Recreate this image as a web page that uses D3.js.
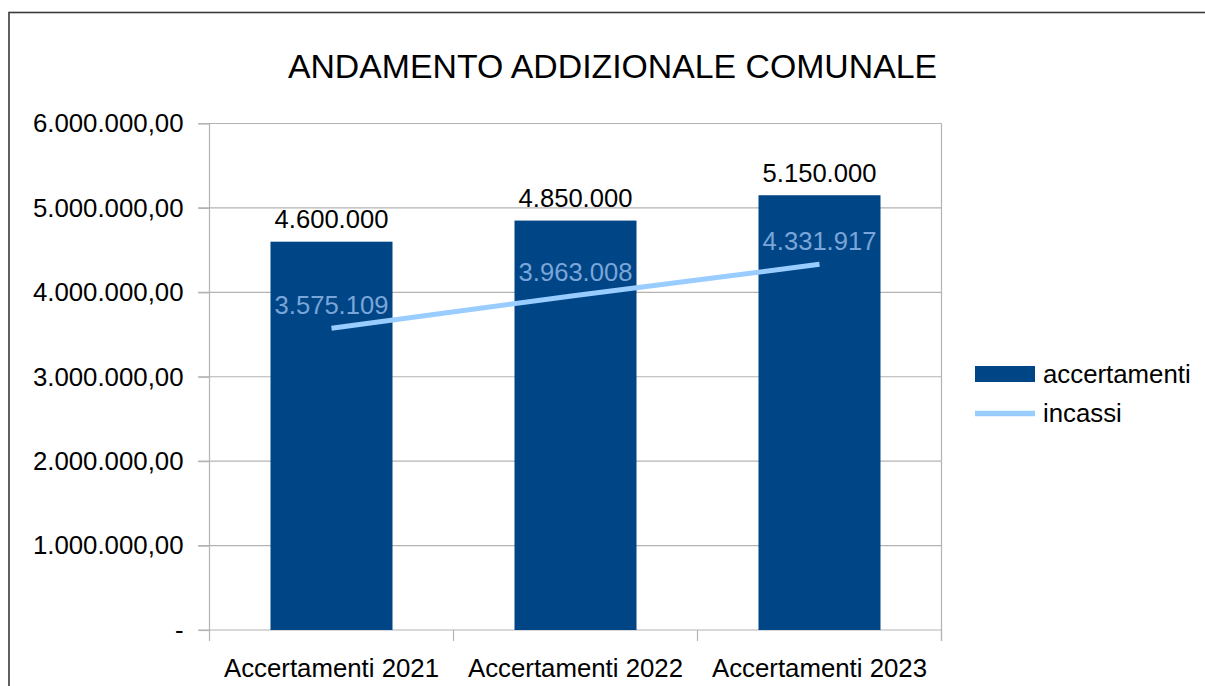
<!DOCTYPE html>
<html>
<head>
<meta charset="utf-8">
<script src="https://cdn.jsdelivr.net/npm/d3@7"></script>
<style>
  body { margin: 0; background: #fff; }
  svg { display: block; font-family: "Liberation Sans", Arial, sans-serif; }
</style>
</head>
<body>
<svg id="chart" width="1205" height="686"></svg>
<script>
// dati del grafico
var categorie = ["Accertamenti 2021", "Accertamenti 2022", "Accertamenti 2023"];
var accertamenti = [4600000, 4850000, 5150000];
var incassi = [3575109, 3963008, 4331917];
var tickValori = [0, 1000000, 2000000, 3000000, 4000000, 5000000, 6000000];
var nomiSerie = ["accertamenti", "incassi"];

var it = d3.formatLocale({ decimal: ",", thousands: ".", grouping: [3], currency: ["€", ""] });
var fmtAsse = it.format(",.2f");
var fmtEtichetta = it.format(",.0f");

var svg = d3.select("#chart");

// cornice
svg.append("rect")
  .attr("x", 9).attr("y", 12.5)
  .attr("width", 1400).attr("height", 1000)
  .attr("fill", "none")
  .attr("stroke", "#3a3a3a")
  .attr("stroke-width", 1.6);

// titolo
svg.append("text")
  .attr("x", 612.5).attr("y", 77.5)
  .attr("text-anchor", "middle")
  .attr("font-size", "33.8px")
  .attr("fill", "#000")
  .text("ANDAMENTO ADDIZIONALE COMUNALE");

var xScale = d3.scaleBand().domain(categorie).range([209.5, 941.5]).padding(0);
var yScale = d3.scaleLinear().domain([0, 6000000]).range([630, 123.5]);

// griglia
svg.append("g").selectAll("line")
  .data(tickValori.filter(function(d) { return d > 0; }))
  .enter()
  .append("line")
  .attr("x1", 198).attr("x2", 941.5)
  .attr("y1", function(d) { return yScale(d); })
  .attr("y2", function(d) { return yScale(d); })
  .attr("stroke", "#b3b3b3")
  .attr("stroke-width", 1.2);

// bordo destro area
svg.append("line")
  .attr("x1", 941.5).attr("x2", 941.5)
  .attr("y1", 123.5).attr("y2", 641)
  .attr("stroke", "#b3b3b3").attr("stroke-width", 1.2);

// asse y
var assey = d3.axisLeft(yScale)
  .tickValues(tickValori)
  .tickSize(11)
  .tickPadding(15)
  .tickFormat(function(d) { return d === 0 ? "-" : fmtAsse(d); });

var gy = svg.append("g")
  .attr("transform", "translate(209.5,0)")
  .call(assey);
gy.selectAll("line").attr("stroke", "#b3b3b3").attr("stroke-width", 1.2);
gy.select(".domain").attr("stroke", "#b3b3b3").attr("stroke-width", 1.2).attr("d", "M0,123.5V630");
gy.selectAll("text")
  .attr("font-size", "25.8px")
  .attr("font-family", "Liberation Sans, Arial, sans-serif")
  .attr("fill", "#000");

// asse x
var assex = d3.axisBottom(xScale).tickSize(0).tickPadding(29);
var gx = svg.append("g")
  .attr("transform", "translate(0,630)")
  .call(assex);
gx.select(".domain").attr("stroke", "#b3b3b3").attr("stroke-width", 1.2).attr("d", "M198,0H941.5");
gx.selectAll("text")
  .attr("font-size", "25.8px")
  .attr("font-family", "Liberation Sans, Arial, sans-serif")
  .attr("fill", "#000");

// tacche tra le categorie
var bordi = categorie.map(function(c) { return xScale(c); }).concat([xScale.range()[1]]);
svg.append("g").selectAll("line")
  .data(bordi)
  .enter()
  .append("line")
  .attr("x1", function(d) { return d; })
  .attr("x2", function(d) { return d; })
  .attr("y1", 630).attr("y2", 641)
  .attr("stroke", "#b3b3b3").attr("stroke-width", 1.2);

// barre
var bw = xScale.bandwidth() / 2;
svg.append("g").selectAll("rect")
  .data(accertamenti)
  .enter()
  .append("rect")
  .attr("x", function(d, i) { return xScale(categorie[i]) + bw / 2; })
  .attr("y", function(d) { return yScale(d); })
  .attr("width", bw)
  .attr("height", function(d) { return yScale(0) - yScale(d); })
  .attr("fill", "#004586");

svg.append("g").selectAll("text")
  .data(accertamenti)
  .enter()
  .append("text")
  .attr("x", function(d, i) { return xScale(categorie[i]) + xScale.bandwidth() / 2; })
  .attr("y", function(d) { return yScale(d) - 13.5; })
  .attr("text-anchor", "middle")
  .attr("font-size", "25.6px")
  .attr("fill", "#000")
  .text(function(d) { return fmtEtichetta(d); });

// linea incassi
var linea = d3.line()
  .x(function(d, i) { return xScale(categorie[i]) + xScale.bandwidth() / 2; })
  .y(function(d) { return yScale(d); });

svg.append("path")
  .datum(incassi)
  .attr("d", linea)
  .attr("fill", "none")
  .attr("stroke", "#99ccff")
  .attr("stroke-width", 5);

svg.append("g").selectAll("text")
  .data(incassi)
  .enter()
  .append("text")
  .attr("x", function(d, i) { return xScale(categorie[i]) + xScale.bandwidth() / 2; })
  .attr("y", function(d) { return yScale(d) - 14; })
  .attr("text-anchor", "middle")
  .attr("font-size", "25.6px")
  .attr("fill", "#7aa5d8")
  .text(function(d) { return fmtEtichetta(d); });

// legenda
var leg = svg.append("g");
leg.append("rect")
  .attr("x", 975).attr("y", 366)
  .attr("width", 60).attr("height", 16)
  .attr("fill", "#004586");
leg.append("line")
  .attr("x1", 975).attr("x2", 1035)
  .attr("y1", 413.5).attr("y2", 413.5)
  .attr("stroke", "#99ccff").attr("stroke-width", 5.5);
leg.selectAll("text")
  .data(nomiSerie)
  .enter()
  .append("text")
  .attr("x", 1043)
  .attr("y", function(d, i) { return 383 + i * 39; })
  .attr("font-size", "25.8px")
  .attr("fill", "#000")
  .text(function(d) { return d; });
</script>
</body>
</html>
